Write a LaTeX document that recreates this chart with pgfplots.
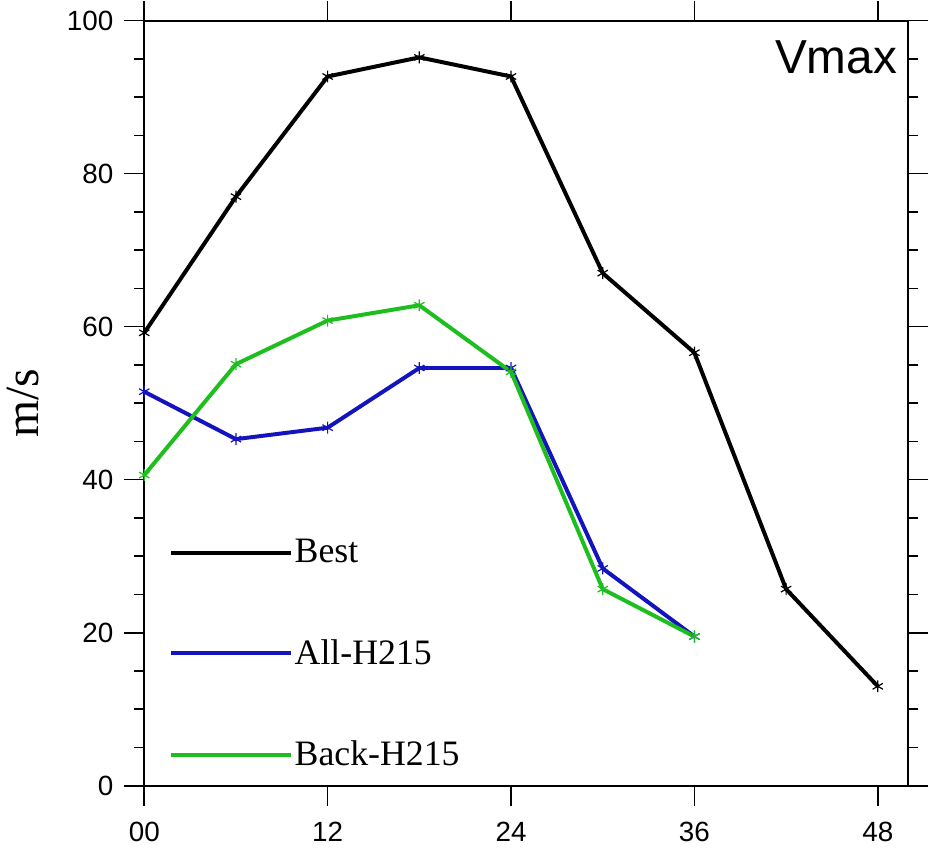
\documentclass[border=0pt]{standalone}
\usepackage{pgfplots}
\pgfplotsset{compat=1.18}
\usepackage{fontspec}
\setmainfont{Liberation Serif}
\newfontfamily\helv{Liberation Sans}
\definecolor{ncblue}{RGB}{20,20,190}
\definecolor{ncgreen}{RGB}{30,190,30}
\begin{document}
\begin{tikzpicture}
\begin{axis}[
scale only axis,
width=384.5pt, height=385pt,
xmin=0, xmax=50,
ymin=0, ymax=100,
xtick={0,12,24,36,48},
xticklabels={00,12,24,36,48},
ytick={0,20,40,60,80,100},
minor y tick num=3,
tick align=outside,
major tick length=10pt,
minor tick length=5pt,
every tick/.style={black, line width=0.8pt},
axis line style={line width=1pt},
/pgf/number format/assume math mode=true,
tick label style={font=\fontsize{14}{14}\helv},
xticklabel style={yshift=-5pt},
yticklabel style={xshift=-2pt},
ylabel={m/s},
y label style={font=\fontsize{24}{24}\selectfont, at={(axis description cs:-0.139,0.5)}, anchor=base},
legend style={at={(rel axis cs:0.0325,0.325)}, anchor=north west, draw=none, fill=none,
  font=\fontsize{18}{18}\selectfont, row sep=35pt, inner sep=0pt,
  nodes={inner sep=1pt}},
legend cell align=left,
legend image code/.code={\draw[#1] (0pt,0pt) -- (60pt,0pt);},
every axis plot/.append style={line width=2pt, mark=asterisk, mark size=3pt,
  mark options={line width=0.6pt}},
clip=false,
]
\addplot[black] coordinates {(0,59.2) (6,77.0) (12,92.7) (18,95.2) (24,92.7) (30,67.0) (36,56.6) (42,25.7) (48,13.0)};
\addlegendentry{Best}
\addplot[ncblue] coordinates {(0,51.5) (6,45.3) (12,46.8) (18,54.6) (24,54.6) (30,28.4) (36,19.5)};
\addlegendentry{All-H215}
\addplot[ncgreen] coordinates {(0,40.6) (6,55.1) (12,60.8) (18,62.8) (24,54.1) (30,25.7) (36,19.5)};
\addlegendentry{Back-H215}
\node[anchor=north east, inner sep=0pt, font=\fontsize{24}{24}\helv] at (rel axis cs:1,1) [xshift=-5.5pt, yshift=-10pt] {Vmax};
\end{axis}
\end{tikzpicture}
\end{document}
